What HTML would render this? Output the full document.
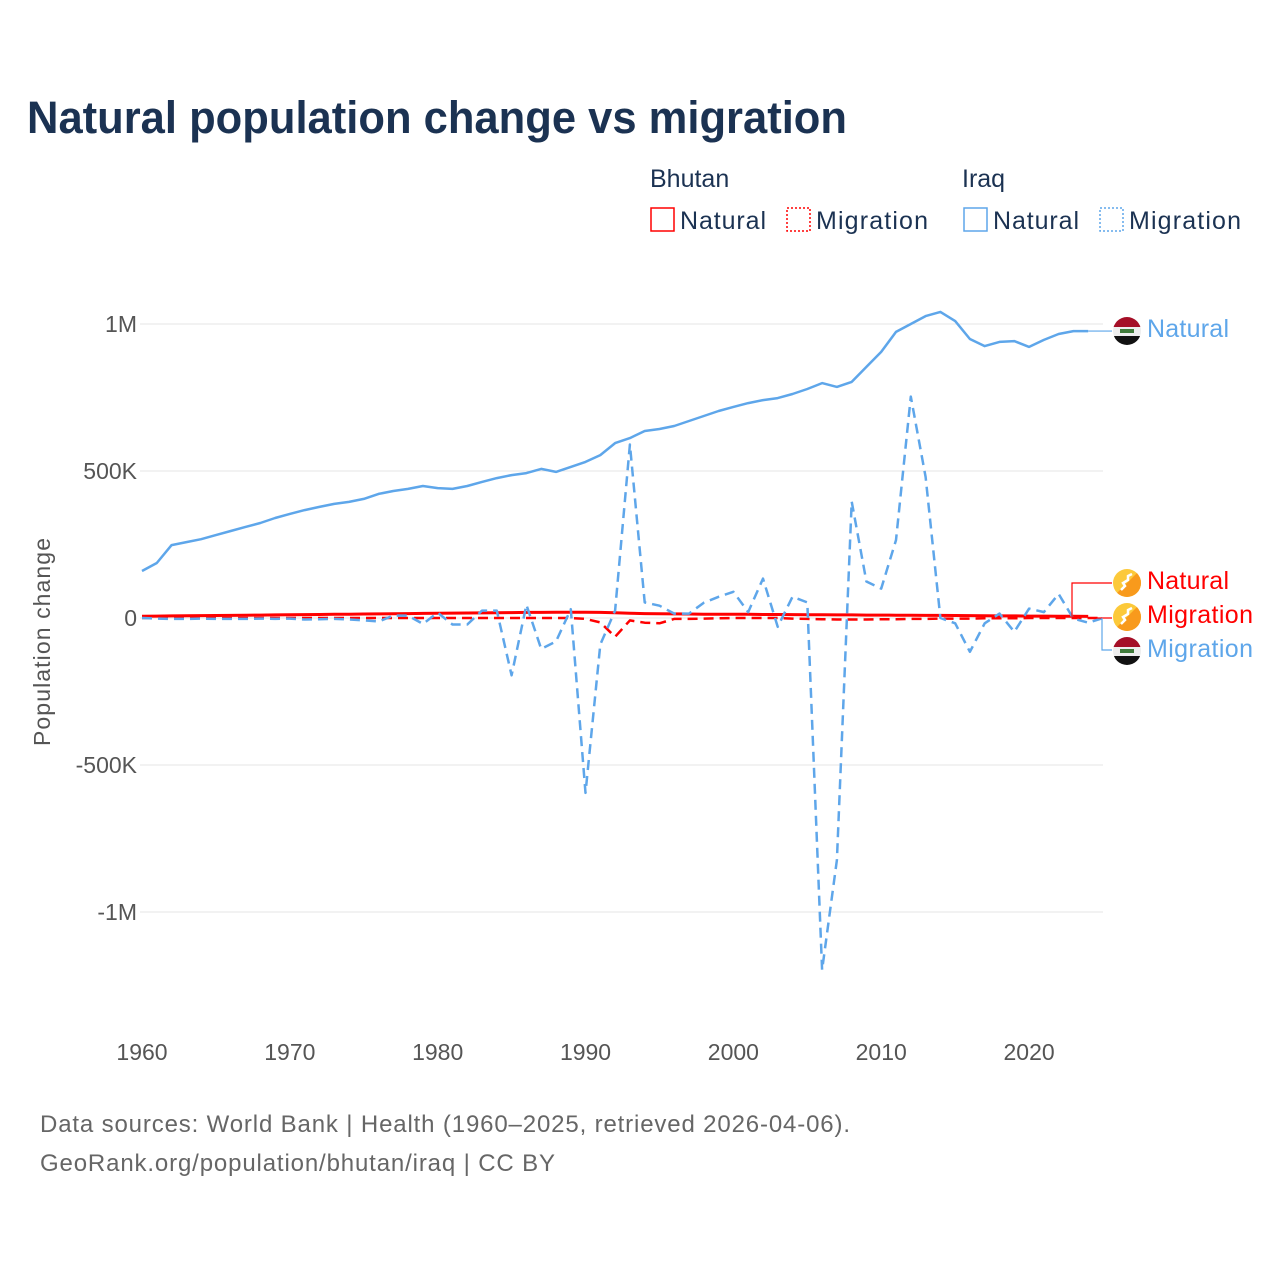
<!DOCTYPE html>
<html><head><meta charset="utf-8">
<style>
body{margin:0;background:#fff;font-family:"Liberation Sans",sans-serif;}
#wrap{position:relative;width:1280px;height:1280px;overflow:hidden;}
</style></head>
<body><div id="wrap">
<svg id="chart" width="1280" height="1280" xmlns="http://www.w3.org/2000/svg">
<text x="27" y="133" font-size="45" font-weight="bold" fill="#1b3252" textLength="820" lengthAdjust="spacingAndGlyphs">Natural population change vs migration</text>
<g font-size="25" fill="#1b3252">
<text x="650" y="187">Bhutan</text>
<text x="962" y="187">Iraq</text>
<g><rect x="651" y="208" width="23" height="23" fill="none" stroke="#ff0000" stroke-width="1.5"/><text x="680" y="229" textLength="86">Natural</text></g>
<g><rect x="787" y="208" width="23" height="23" fill="none" stroke="#ff0000" stroke-width="1.5" stroke-dasharray="2,2"/><text x="816" y="229" textLength="112">Migration</text></g>
<g><rect x="964" y="208" width="23" height="23" fill="none" stroke="#5ea6ea" stroke-width="1.5"/><text x="993" y="229" textLength="86">Natural</text></g>
<g><rect x="1100" y="208" width="23" height="23" fill="none" stroke="#5ea6ea" stroke-width="1.5" stroke-dasharray="2,2"/><text x="1129" y="229" textLength="112">Migration</text></g>
</g>
<g id="grid"></g><g id="yt"></g><g id="xt"></g><g id="series"></g><g id="labels"></g>
<text transform="translate(50,642) rotate(-90)" text-anchor="middle" font-size="23" fill="#555" textLength="208">Population change</text>
<text x="40" y="1132" font-size="24" fill="#666" textLength="810">Data sources: World Bank | Health (1960–2025, retrieved 2026-04-06).</text>
<text x="40" y="1171" font-size="24" fill="#666" textLength="515">GeoRank.org/population/bhutan/iraq | CC BY</text>
</svg>
<script>
const yearsStart = 1960;
const yTicks = [1000000, 500000, 0, -500000, -1000000];
const yTickLabels = ["1M", "500K", "0", "-500K", "-1M"];
const xTicks = [1960, 1970, 1980, 1990, 2000, 2010, 2020];
const iraqNatural = [160000,187000,248000,258000,268000,282000,296000,310000,323000,340000,354000,367000,378000,388000,395000,405000,422000,432000,439000,449000,442000,439000,449000,463000,476000,486000,493000,507000,497000,514000,531000,554000,595000,612000,636000,643000,653000,670000,687000,704000,718000,731000,741000,748000,762000,779000,799000,786000,803000,854000,905000,973000,1000000,1027000,1041000,1010000,949000,925000,939000,942000,922000,946000,966000,976000,976000];
const iraqMigration = [0,-2000,-3000,-3000,-2000,-3000,-3000,-3000,-2000,-3000,-2000,-5000,-4000,-3000,-5000,-8000,-12000,8000,8000,-20000,18000,-22000,-22000,25000,25000,-195000,45000,-105000,-80000,30000,-595000,-90000,25000,590000,53000,42000,15000,15000,52000,72000,89000,20000,134000,-30000,72000,53000,-1197000,-823000,396000,124000,100000,265000,753000,480000,0,-18000,-115000,-18000,15000,-47000,32000,20000,82000,-2000,-16000,0];
const bhutanNatural = [6000,6500,7000,7500,8000,8500,9000,9500,10000,10500,11000,11500,12000,12500,13000,13500,14000,14500,15000,15500,16000,16500,17000,17500,18000,18500,19000,19000,19500,19500,19500,19000,18000,16000,15000,14500,14000,13500,13000,13000,12500,12500,12000,12000,11500,11000,11000,10500,10500,10000,10000,9500,9500,9000,9000,8500,8000,7500,7000,7000,6500,6500,6000,6000,5500];
const bhutanMigration = [0,0,0,0,0,0,0,0,0,0,0,0,0,0,0,0,0,0,0,0,0,0,0,0,0,0,0,0,0,0,-3000,-15000,-64000,-8000,-16000,-18000,-3000,-3000,-2000,-1000,0,0,0,0,-2000,-3000,-4000,-5000,-5000,-5000,-4000,-4000,-3000,-3000,-2000,-2000,-2000,-1000,-1000,-1000,0,0,0,0,0,0];
const NS="http://www.w3.org/2000/svg";
const X0=142,X1=1103,Y0=618,PXM=294;
function xs(yr){return X0+(yr-1960)*(X1-X0)/65;}
function ys(v){return Y0-v/1e6*PXM;}
function mk(t,a,p){const e=document.createElementNS(NS,t);for(const k in a)e.setAttribute(k,a[k]);document.getElementById(p).appendChild(e);return e;}
yTicks.forEach((v,i)=>{
 const g=mk('line',{x1:140,x2:X1,y1:ys(v),y2:ys(v),stroke:'#e6e6e6','stroke-width':1},'grid');
 
 
 const t=mk('text',{x:137,y:ys(v)+8,'text-anchor':'end','font-size':23,fill:'#555'},'yt');
 t.textContent=yTickLabels[i];
 
 
});
xTicks.forEach(yr=>{
 const t=mk('text',{x:xs(yr),y:1060,'text-anchor':'middle','font-size':23,fill:'#555'},'xt');
 t.textContent=yr;
 
 
});
function line(arr,color,dash,w,name){
 const d=arr.map((v,i)=>(i?'L':'M')+xs(yearsStart+i).toFixed(1)+','+ys(v).toFixed(1)).join('');
 const p=mk('path',{d:d,fill:'none',stroke:color,'stroke-width':w,'stroke-dasharray':dash,'stroke-linejoin':'round'},'series');
 
 
}
line(bhutanNatural,'#ff0000','none',3,'line-bhutan-natural');
line(bhutanMigration,'#ff0000','10,6',2.5,'line-bhutan-migration');
line(iraqMigration,'#5ea6ea','10,6',2.5,'line-iraq-migration');
line(iraqNatural,'#5ea6ea','none',2.5,'line-iraq-natural');
const lastIN=iraqNatural[iraqNatural.length-1];
mk('path',{d:`M${xs(1960+iraqNatural.length-1)},${ys(lastIN)}L1112,${ys(lastIN)}`,stroke:'#5ea6ea',fill:'none','stroke-width':1.2},'labels');
mk('path',{d:`M1072,${Y0}L1072,583L1112,583`,stroke:'#ff0000',fill:'none','stroke-width':1.2},'labels');
mk('path',{d:`M1088,${Y0}L1112,${Y0}`,stroke:'#ff0000',fill:'none','stroke-width':1.2},'labels');
mk('path',{d:`M1102,${Y0}L1102,650L1112,650`,stroke:'#5ea6ea',fill:'none','stroke-width':1.2},'labels');
function flag(cy,type,name){
 const g=document.createElementNS(NS,'g');document.getElementById('labels').appendChild(g);
 
 
 const cx=1127;
 if(type==='iraq'){
  g.innerHTML=`<clipPath id="c${cy}"><circle cx="${cx}" cy="${cy}" r="14"/></clipPath><g clip-path="url(#c${cy})"><rect x="${cx-14}" y="${cy-14}" width="28" height="10" fill="#a50f27"/><rect x="${cx-14}" y="${cy-4}" width="28" height="9" fill="#eee"/><rect x="${cx-14}" y="${cy+5}" width="28" height="10" fill="#111"/><rect x="${cx-7}" y="${cy-2}" width="14" height="4" fill="#3f7a3a"/></g>`;
 } else {
  g.innerHTML=`<clipPath id="c${cy}"><circle cx="${cx}" cy="${cy}" r="14"/></clipPath><g clip-path="url(#c${cy})"><rect x="${cx-14}" y="${cy-14}" width="28" height="28" fill="#fcc93a"/><path d="M${cx+14},${cy-14}L${cx+14},${cy+14}L${cx-14},${cy+14}Z" fill="#f89a1c"/><path d="M${cx-6},${cy+7}l4,-4l-2,-3l5,-3l0,-4l4,-2" stroke="#fff" stroke-width="2.5" fill="none"/></g>`;
 }
}
function lab(y,txt,color,name,len){
 const t=mk('text',{x:1147,y:y+9,'font-size':25,fill:color,textLength:len},'labels');
 t.textContent=txt;
 
 
}
flag(331,'iraq','flag-iraq-natural');lab(328,'Natural','#5ea6ea','label-iraq-natural',82);
flag(583,'bhutan','flag-bhutan-natural');lab(580,'Natural','#ff0000','label-bhutan-natural',82);
flag(617,'bhutan','flag-bhutan-migration');lab(614,'Migration','#ff0000','label-bhutan-migration',106);
flag(651,'iraq','flag-iraq-migration');lab(648,'Migration','#5ea6ea','label-iraq-migration',106);
</script>
</div></body></html>
